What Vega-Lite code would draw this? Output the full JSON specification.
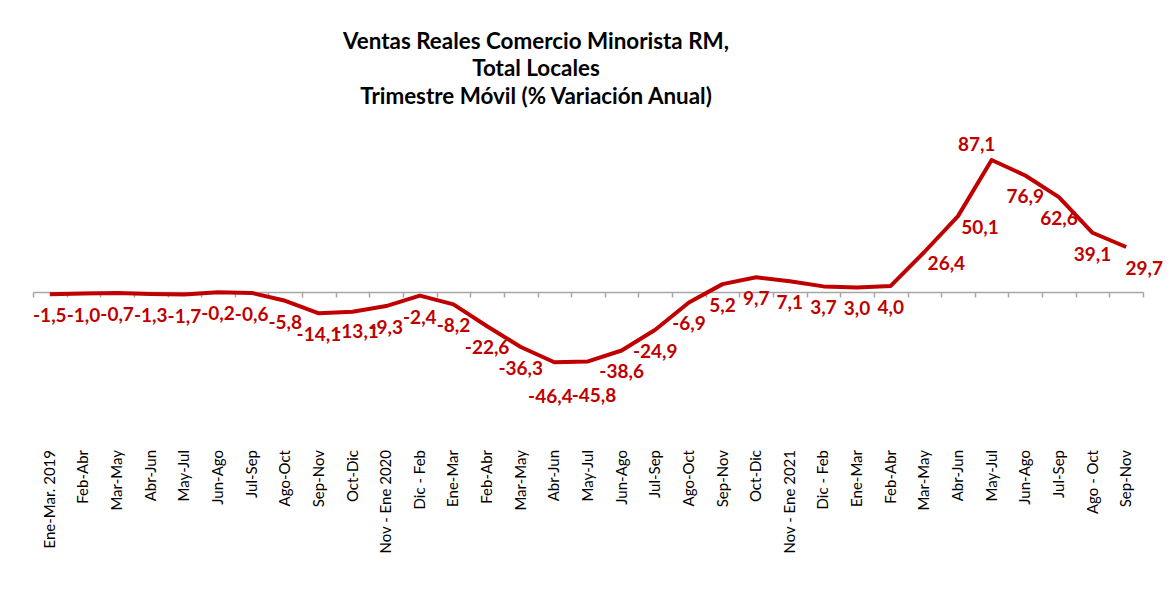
{
  "$schema": "https://vega.github.io/schema/vega-lite/v6.json",
  "width": 1110,
  "height": 303,
  "autosize": "none",
  "padding": {"left": 33, "top": 140.5, "right": 29, "bottom": 153.5},
  "background": "white",
  "config": {
    "view": {"stroke": null},
    "locale": {"number": {"decimal": ",", "thousands": ".", "grouping": [3], "currency": ["", ""], "minus": "-"}},
    "font": "Lato"
  },
  "title": {
    "text": ["Ventas Reales Comercio Minorista RM,", "Total Locales", "Trimestre Móvil (% Variación Anual)"],
    "font": "Lato",
    "fontSize": 22.4,
    "fontWeight": "bold",
    "color": "#000000",
    "lineHeight": 27.5,
    "anchor": "middle",
    "dx": -52,
    "offset": 28
  },
  "data": {
    "values": [
      {"periodo": "Ene-Mar. 2019", "ciclo": 2019, "v": -1.5},
      {"periodo": "Feb-Abr", "ciclo": 2019, "v": -1.0},
      {"periodo": "Mar-May", "ciclo": 2019, "v": -0.7},
      {"periodo": "Abr-Jun", "ciclo": 2019, "v": -1.3},
      {"periodo": "May-Jul", "ciclo": 2019, "v": -1.7},
      {"periodo": "Jun-Ago", "ciclo": 2019, "v": -0.2},
      {"periodo": "Jul-Sep", "ciclo": 2019, "v": -0.6},
      {"periodo": "Ago-Oct", "ciclo": 2019, "v": -5.8},
      {"periodo": "Sep-Nov", "ciclo": 2019, "v": -14.1},
      {"periodo": "Oct-Dic", "ciclo": 2019, "v": -13.1},
      {"periodo": "Nov - Ene 2020", "ciclo": 2019, "v": -9.3},
      {"periodo": "Dic - Feb", "ciclo": 2019, "v": -2.4},
      {"periodo": "Ene-Mar", "ciclo": 2020, "v": -8.2},
      {"periodo": "Feb-Abr", "ciclo": 2020, "v": -22.6},
      {"periodo": "Mar-May", "ciclo": 2020, "v": -36.3},
      {"periodo": "Abr-Jun", "ciclo": 2020, "v": -46.4},
      {"periodo": "May-Jul", "ciclo": 2020, "v": -45.8},
      {"periodo": "Jun-Ago", "ciclo": 2020, "v": -38.6},
      {"periodo": "Jul-Sep", "ciclo": 2020, "v": -24.9},
      {"periodo": "Ago-Oct", "ciclo": 2020, "v": -6.9},
      {"periodo": "Sep-Nov", "ciclo": 2020, "v": 5.2},
      {"periodo": "Oct-Dic", "ciclo": 2020, "v": 9.7},
      {"periodo": "Nov - Ene 2021", "ciclo": 2020, "v": 7.1},
      {"periodo": "Dic - Feb", "ciclo": 2020, "v": 3.7},
      {"periodo": "Ene-Mar", "ciclo": 2021, "v": 3.0},
      {"periodo": "Feb-Abr", "ciclo": 2021, "v": 4.0},
      {"periodo": "Mar-May", "ciclo": 2021, "v": 26.4},
      {"periodo": "Abr-Jun", "ciclo": 2021, "v": 50.1},
      {"periodo": "May-Jul", "ciclo": 2021, "v": 87.1},
      {"periodo": "Jun-Ago", "ciclo": 2021, "v": 76.9},
      {"periodo": "Jul-Sep", "ciclo": 2021, "v": 62.6},
      {"periodo": "Ago - Oct", "ciclo": 2021, "v": 39.1},
      {"periodo": "Sep-Nov", "ciclo": 2021, "v": 29.7}
    ]
  },
  "transform": [
    {"calculate": "datum.ciclo + '|' + datum.periodo", "as": "clave"}
  ],
  "encoding": {
    "x": {
      "field": "clave",
      "type": "nominal",
      "sort": null,
      "scale": {"type": "band", "paddingInner": 0, "paddingOuter": 0},
      "axis": null
    },
    "y": {
      "field": "v",
      "type": "quantitative",
      "scale": {"domain": [-100, 100], "nice": false, "zero": false},
      "axis": null
    }
  },
  "layer": [
    {
      "mark": {"type": "line", "opacity": 0},
      "encoding": {
        "x": {
          "field": "clave",
          "type": "nominal",
          "sort": null,
          "axis": {
            "title": null,
            "domain": false,
            "ticks": false,
            "labelAngle": -90,
            "labelPadding": 6,
            "labelFont": "Lato",
            "labelFontSize": 15,
            "labelColor": "#000000",
            "labelOverlap": false,
            "labelExpr": "split(datum.label, '|')[1]",
            "orient": "bottom"
          }
        }
      }
    },
    {
      "mark": {"type": "line", "opacity": 0},
      "encoding": {
        "x": {
          "field": "clave",
          "type": "nominal",
          "sort": null,
          "axis": {
            "title": null,
            "labels": false,
            "domain": true,
            "domainColor": "#A6A6A6",
            "domainWidth": 1.5,
            "ticks": true,
            "tickBand": "extent",
            "tickColor": "#A6A6A6",
            "tickSize": 5,
            "tickWidth": 1.5,
            "offset": -151.5,
            "orient": "bottom"
          }
        }
      }
    },
    {
      "mark": {"type": "line", "color": "#C00000", "strokeWidth": 4, "strokeJoin": "round", "strokeCap": "butt"}
    },
    {
      "transform": [{"filter": {"not": {"field": "v", "oneOf": [87.1, 26.4, 50.1, 29.7, -46.4, -45.8, -13.1]}}}],
      "mark": {"type": "text", "color": "#C00000", "font": "Lato", "fontWeight": "bold", "fontSize": 19, "dy": 22},
      "encoding": {"text": {"field": "v", "type": "quantitative", "format": ".1f"}}
    },
    {
      "transform": [{"filter": {"field": "v", "oneOf": [87.1]}}],
      "mark": {"type": "text", "color": "#C00000", "font": "Lato", "fontWeight": "bold", "fontSize": 19, "dy": -15, "dx": -15},
      "encoding": {"text": {"field": "v", "type": "quantitative", "format": ".1f"}}
    },
    {
      "transform": [{"filter": {"field": "v", "oneOf": [26.4, 50.1]}}],
      "mark": {"type": "text", "color": "#C00000", "font": "Lato", "fontWeight": "bold", "fontSize": 19, "dy": 12, "dx": 22},
      "encoding": {"text": {"field": "v", "type": "quantitative", "format": ".1f"}}
    },
    {
      "transform": [{"filter": {"field": "v", "oneOf": [29.7]}}],
      "mark": {"type": "text", "color": "#C00000", "font": "Lato", "fontWeight": "bold", "fontSize": 19, "dy": 22, "dx": 18},
      "encoding": {"text": {"field": "v", "type": "quantitative", "format": ".1f"}}
    },
    {
      "transform": [{"filter": {"field": "v", "oneOf": [-46.4]}}],
      "mark": {"type": "text", "color": "#C00000", "font": "Lato", "fontWeight": "bold", "fontSize": 19, "dy": 35, "dx": -4},
      "encoding": {"text": {"field": "v", "type": "quantitative", "format": ".1f"}}
    },
    {
      "transform": [{"filter": {"field": "v", "oneOf": [-45.8]}}],
      "mark": {"type": "text", "color": "#C00000", "font": "Lato", "fontWeight": "bold", "fontSize": 19, "dy": 35, "dx": 6},
      "encoding": {"text": {"field": "v", "type": "quantitative", "format": ".1f"}}
    },
    {
      "transform": [{"filter": {"field": "v", "oneOf": [-13.1]}}],
      "mark": {"type": "text", "color": "#C00000", "font": "Lato", "fontWeight": "bold", "fontSize": 19, "dy": 20, "dx": 4},
      "encoding": {"text": {"field": "v", "type": "quantitative", "format": ".1f"}}
    }
  ],
  "resolve": {"axis": {"x": "independent"}}
}
